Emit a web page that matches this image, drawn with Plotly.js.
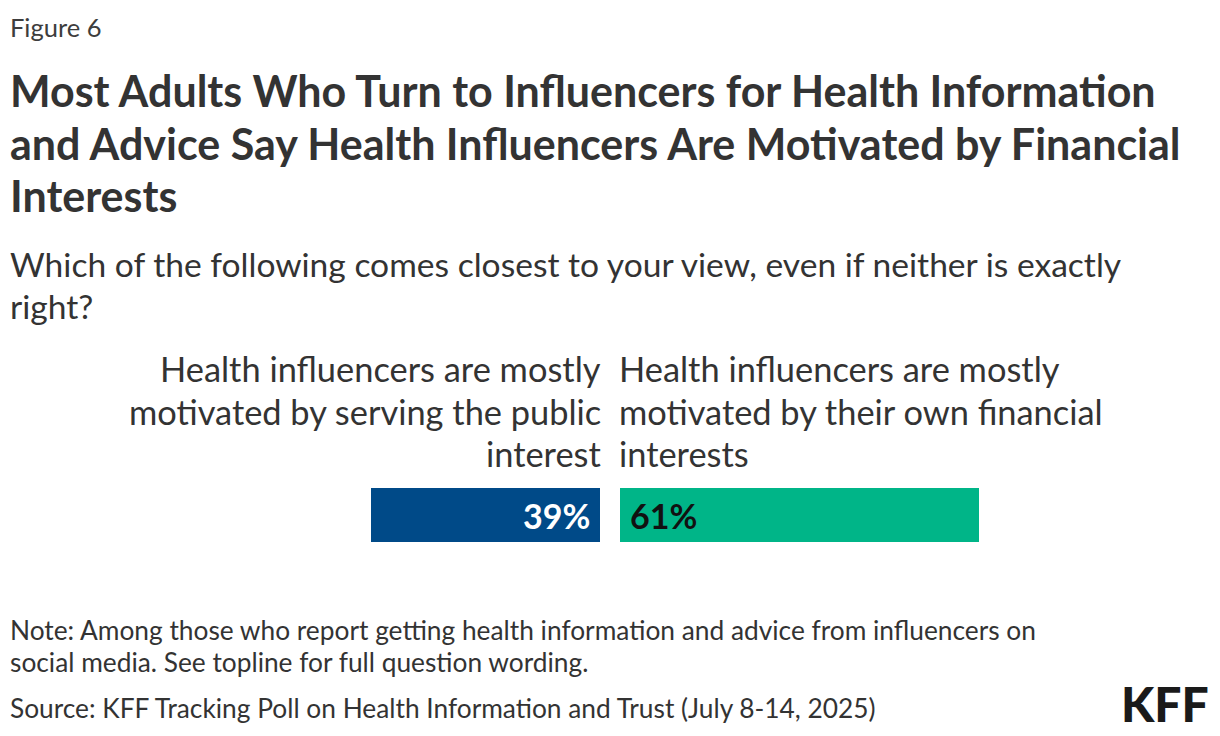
<!DOCTYPE html>
<html>
<head>
<meta charset="utf-8">
<script src="https://cdn.plot.ly/plotly-3.0.1.min.js"></script>
<style>
  body { margin: 0; background: #fff; }
  #chart { width: 1220px; height: 736px; }
</style>
</head>
<body>
<div id="chart"></div>
<script>
// values
const groups = ['All'];
const publicInterest = [39];
const financialInterest = [61];
const publicLabel = ['Health influencers are mostly', 'motivated by serving the public', 'interest'];
const financialLabel = ['Health influencers are mostly', 'motivated by their own financial', 'interests'];

const W = 1220, H = 736;
const FONT = 'Source Sans Pro, Lato, Roboto, sans-serif';
const TEXT = '#333333';

// pixel helpers, figure has no margins so paper == pixels
function px(x) { return x / W; }
function py(y) { return 1 - y / H; }

// one annotation per text line, placed by baseline
function line(text, x, base, size, opts) {
    opts = opts || {};
    return {
        text: text,
        xref: 'paper', yref: 'paper',
        x: px(x), y: py(base - size * 0.35),
        xanchor: opts.align || 'left', yanchor: 'middle',
        showarrow: false,
        font: { family: FONT, size: size, color: opts.color || TEXT, weight: opts.weight || 400 }
    };
}

let annotations = [
    line('Figure 6', 8, 36, 25.5, { color: '#3d3d3d' }),
    line('Most Adults Who Turn to Influencers for Health Information', 8, 106, 43, { weight: 700 }),
    line('and Advice Say Health Influencers Are Motivated by Financial', 8, 159, 43, { weight: 700 }),
    line('Interests', 8, 211, 43, { weight: 700 }),
    line('Which of the following comes closest to your view, even if neither is exactly', 8, 276, 33.6),
    line('right?', 8, 318, 33.6),
    line('Note: Among those who report getting health information and advice from influencers on', 8, 639, 26.3),
    line('social media. See topline for full question wording.', 8, 671, 26.3),
    line('Source: KFF Tracking Poll on Health Information and Trust (July 8-14, 2025)', 8, 717, 26.3),
    line('KFF', 1211, 720, 48, { align: 'right', color: '#1a1a1a', weight: 900 })
];
publicLabel.forEach(function (t, i) {
    annotations.push(line(t, 603, 381 + i * 42.5, 34.4, { align: 'right' }));
});
financialLabel.forEach(function (t, i) {
    annotations.push(line(t, 617, 381 + i * 42.5, 34.4));
});

// value labels sit 10px inside the bars, anchored on the bars' zero ends
annotations.push({
    text: publicInterest[0] + '%', xref: 'x', yref: 'y', x: 0, y: groups[0],
    xanchor: 'right', yanchor: 'middle', xshift: -8, showarrow: false,
    font: { family: FONT, size: 34, color: '#ffffff', weight: 700 }
});
annotations.push({
    text: financialInterest[0] + '%', xref: 'x2', yref: 'y', x: 0, y: groups[0],
    xanchor: 'left', yanchor: 'middle', xshift: 8, showarrow: false,
    font: { family: FONT, size: 34, color: '#111111', weight: 700 }
});

const pxPerPct = 5.88;

let trace1 = {
    type: 'bar', orientation: 'h',
    y: groups, x: publicInterest,
    xaxis: 'x', yaxis: 'y',
    marker: { color: '#004A88' },
    hoverinfo: 'skip'
};

let trace2 = {
    type: 'bar', orientation: 'h',
    y: groups, x: financialInterest,
    xaxis: 'x2', yaxis: 'y',
    marker: { color: '#00B588' },
    hoverinfo: 'skip'
};

let layout = {
    width: W, height: H,
    margin: { l: 0, r: 0, t: 0, b: 0 },
    paper_bgcolor: '#ffffff', plot_bgcolor: 'rgba(0,0,0,0)',
    showlegend: false,
    bargap: 0,
    xaxis: {
        domain: [0, px(600)],
        range: [600 / pxPerPct, 0],
        visible: false, fixedrange: true
    },
    xaxis2: {
        domain: [px(620), 1],
        range: [0, 600 / pxPerPct],
        visible: false, fixedrange: true
    },
    yaxis: {
        domain: [py(542), py(488)],
        range: [-0.5, 0.5],
        visible: false, fixedrange: true
    },
    annotations: annotations
};

Plotly.newPlot('chart', [trace1, trace2], layout, { staticPlot: true, displayModeBar: false });
</script>
</body>
</html>
